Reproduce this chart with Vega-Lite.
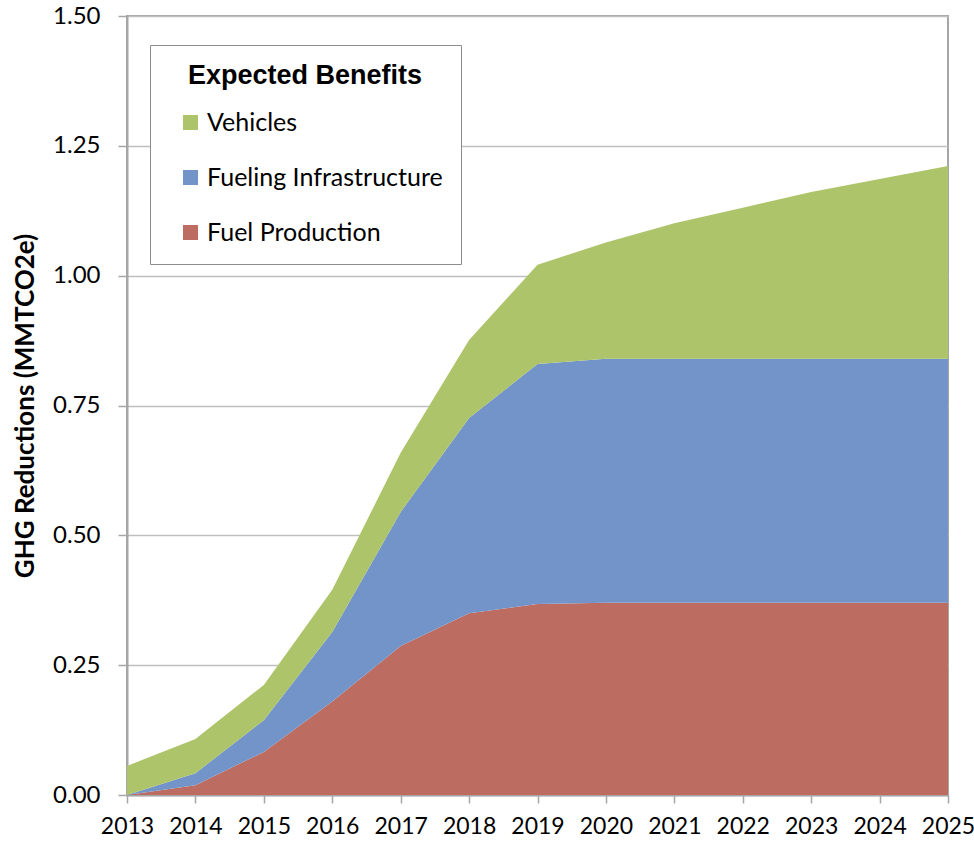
{
  "$schema": "https://vega.github.io/schema/vega-lite/v6.json",
  "autosize": "none",
  "width": 821,
  "height": 779,
  "padding": {"left": 127, "top": 16, "right": 26, "bottom": 57},
  "background": "white",
  "config": {
    "view": {"stroke": "#A6A6A6", "strokeWidth": 2}
  },
  "data": {
    "values": [
      {"year": 2013, "series": "Fuel Production", "value": 0},
      {"year": 2014, "series": "Fuel Production", "value": 0.019},
      {"year": 2015, "series": "Fuel Production", "value": 0.083},
      {"year": 2016, "series": "Fuel Production", "value": 0.18},
      {"year": 2017, "series": "Fuel Production", "value": 0.287},
      {"year": 2018, "series": "Fuel Production", "value": 0.35},
      {"year": 2019, "series": "Fuel Production", "value": 0.368},
      {"year": 2020, "series": "Fuel Production", "value": 0.37},
      {"year": 2021, "series": "Fuel Production", "value": 0.37},
      {"year": 2022, "series": "Fuel Production", "value": 0.37},
      {"year": 2023, "series": "Fuel Production", "value": 0.37},
      {"year": 2024, "series": "Fuel Production", "value": 0.37},
      {"year": 2025, "series": "Fuel Production", "value": 0.37},
      {"year": 2013, "series": "Fueling Infrastructure", "value": 0},
      {"year": 2014, "series": "Fueling Infrastructure", "value": 0.023},
      {"year": 2015, "series": "Fueling Infrastructure", "value": 0.061},
      {"year": 2016, "series": "Fueling Infrastructure", "value": 0.134},
      {"year": 2017, "series": "Fueling Infrastructure", "value": 0.258},
      {"year": 2018, "series": "Fueling Infrastructure", "value": 0.376},
      {"year": 2019, "series": "Fueling Infrastructure", "value": 0.462},
      {"year": 2020, "series": "Fueling Infrastructure", "value": 0.47},
      {"year": 2021, "series": "Fueling Infrastructure", "value": 0.47},
      {"year": 2022, "series": "Fueling Infrastructure", "value": 0.47},
      {"year": 2023, "series": "Fueling Infrastructure", "value": 0.47},
      {"year": 2024, "series": "Fueling Infrastructure", "value": 0.47},
      {"year": 2025, "series": "Fueling Infrastructure", "value": 0.47},
      {"year": 2013, "series": "Vehicles", "value": 0.056},
      {"year": 2014, "series": "Vehicles", "value": 0.066},
      {"year": 2015, "series": "Vehicles", "value": 0.068},
      {"year": 2016, "series": "Vehicles", "value": 0.081},
      {"year": 2017, "series": "Vehicles", "value": 0.114},
      {"year": 2018, "series": "Vehicles", "value": 0.15},
      {"year": 2019, "series": "Vehicles", "value": 0.191},
      {"year": 2020, "series": "Vehicles", "value": 0.224},
      {"year": 2021, "series": "Vehicles", "value": 0.261},
      {"year": 2022, "series": "Vehicles", "value": 0.291},
      {"year": 2023, "series": "Vehicles", "value": 0.321},
      {"year": 2024, "series": "Vehicles", "value": 0.346},
      {"year": 2025, "series": "Vehicles", "value": 0.371}
    ]
  },
  "mark": {"type": "area", "interpolate": "linear", "opacity": 1},
  "encoding": {
    "x": {
      "field": "year",
      "type": "quantitative",
      "scale": {"domain": [2013, 2025], "nice": false, "zero": false},
      "axis": {
        "title": null,
        "values": [2013, 2014, 2015, 2016, 2017, 2018, 2019, 2020, 2021, 2022, 2023, 2024, 2025],
        "format": "d",
        "grid": false,
        "domainColor": "#A6A6A6",
        "domainWidth": 2,
        "tickColor": "#A6A6A6",
        "tickWidth": 1.5,
        "tickSize": 8,
        "labelFont": "Lato",
        "labelFontSize": 23,
        "labelColor": "#000000",
        "labelPadding": 12,
        "labelFlush": false,
        "labelOverlap": false
      }
    },
    "y": {
      "field": "value",
      "type": "quantitative",
      "stack": "zero",
      "scale": {"domain": [0, 1.5], "nice": false},
      "axis": {
        "title": "GHG Reductions (MMTCO2e)",
        "titleFont": "Lato",
        "titleFontWeight": "bold",
        "titleFontSize": 26,
        "titleColor": "#000000",
        "titlePadding": 14,
        "values": [0, 0.25, 0.5, 0.75, 1.0, 1.25, 1.5],
        "format": ".2f",
        "grid": true,
        "gridColor": "#BFBFBF",
        "gridWidth": 1.5,
        "domainColor": "#A6A6A6",
        "domainWidth": 2,
        "tickColor": "#A6A6A6",
        "tickWidth": 1.5,
        "tickSize": 9,
        "labelFont": "Lato",
        "labelFontSize": 24,
        "labelColor": "#000000",
        "labelPadding": 18,
        "labelFlush": false,
        "labelOverlap": false
      }
    },
    "color": {
      "field": "series",
      "type": "nominal",
      "sort": ["Vehicles", "Fueling Infrastructure", "Fuel Production"],
      "scale": {
        "domain": ["Vehicles", "Fueling Infrastructure", "Fuel Production"],
        "range": ["#ADC46A", "#7294C8", "#BD6C61"]
      },
      "legend": {
        "title": "Expected Benefits",
        "orient": "none",
        "legendX": 23,
        "legendY": 29,
        "titleFont": "Liberation Sans",
        "titleFontWeight": "bold",
        "titleFontSize": 27,
        "titleColor": "#000000",
        "titlePadding": 20,
        "titleAnchor": "middle",
        "titleLimit": 500,
        "strokeColor": "#8C8C8C",
        "fillColor": "white",
        "padding": 18,
        "symbolType": "square",
        "symbolSize": 225,
        "symbolOffset": 10,
        "symbolStrokeWidth": 0,
        "symbolOpacity": 1,
        "labelFont": "Lato",
        "labelFontSize": 25,
        "labelColor": "#000000",
        "labelOffset": 4,
        "rowPadding": 29,
        "labelLimit": 500
      }
    },
    "order": {"field": "series", "sort": "ascending"}
  }
}
